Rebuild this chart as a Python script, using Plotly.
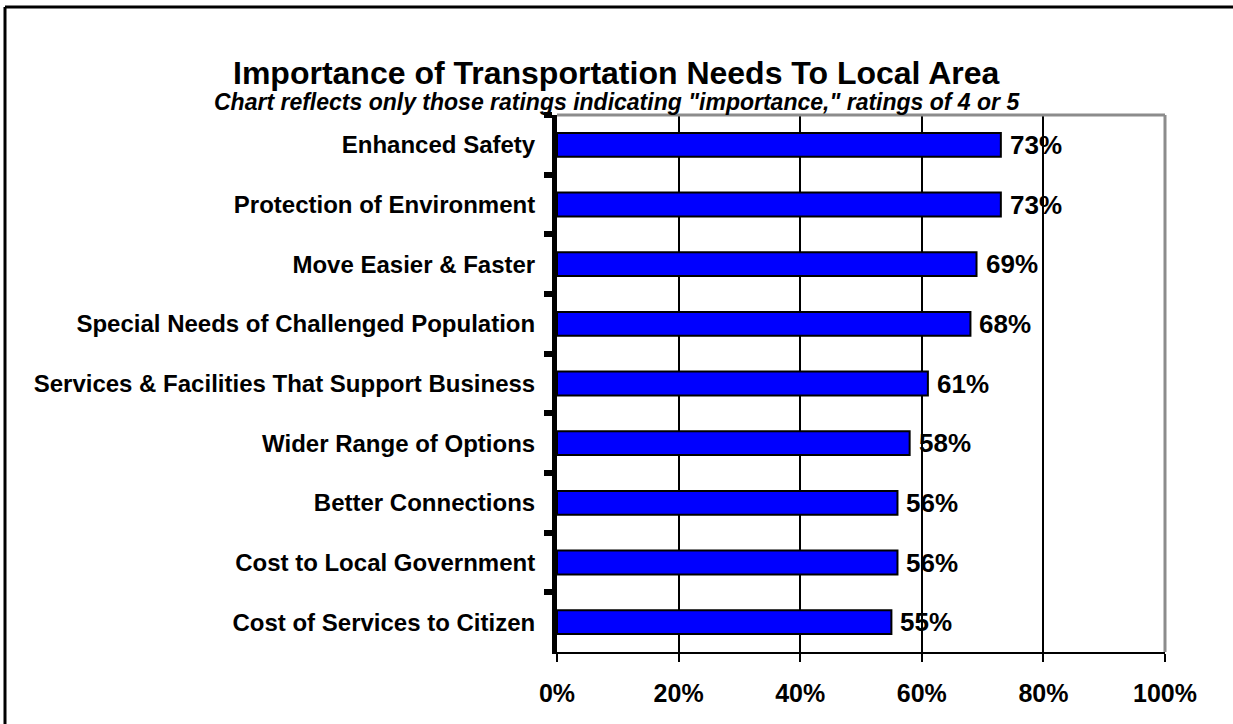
import plotly.graph_objects as go

# Survey results: share of respondents rating each need 4 or 5
categories = [
    "Enhanced Safety",
    "Protection of Environment",
    "Move Easier & Faster",
    "Special Needs of Challenged Population",
    "Services & Facilities That Support Business",
    "Wider Range of Options",
    "Better Connections",
    "Cost to Local Government",
    "Cost of Services to Citizen",
]
values = [73, 73, 69, 68, 61, 58, 56, 56, 55]
x_ticks = [0, 20, 40, 60, 80, 100]
x_tick_labels = ["0%", "20%", "40%", "60%", "80%", "100%"]

title_text = "Importance of Transportation Needs To Local Area"
subtitle_text = 'Chart reflects only those ratings indicating "importance," ratings of 4 or 5'

FONT = "Liberation Sans, Arial, sans-serif"
W, H = 1233, 724
M_L, M_R, M_T, M_B = 557, 68, 115, 72
PW, PH = W - M_L - M_R, H - M_T - M_B


def px_x(p):
    return (p - M_L) / PW


def px_y(p):
    return (H - M_B - p) / PH


fig = go.Figure()
fig.add_trace(go.Bar(
    y=categories,
    x=values,
    orientation="h",
    width=0.4,
    marker=dict(color="#0000FF", line=dict(color="black", width=2)),
    hoverinfo="skip",
))

# value labels at the end of each bar
for cat, v in zip(categories, values):
    fig.add_annotation(
        x=v, y=cat, xref="x", yref="y",
        text=f"<b>{v}%</b>", showarrow=False,
        xanchor="left", yanchor="middle", xshift=7,
        font=dict(family=FONT, size=26, color="black"),
    )

# titles centred on the whole figure
fig.add_annotation(
    x=px_x(W / 2), y=px_y(73), xref="paper", yref="paper", xanchor="center", yanchor="middle",
    text=f"<b>{title_text}</b>", showarrow=False, borderpad=0,
    font=dict(family=FONT, size=32, color="black"),
)
fig.add_annotation(
    x=px_x(W / 2), y=px_y(102), xref="paper", yref="paper", xanchor="center", yanchor="middle",
    text=f"<b><i>{subtitle_text}</i></b>", showarrow=False, borderpad=0,
    font=dict(family=FONT, size=23, color="black"),
)

shapes = [
    # plot-area border (top and right) in grey
    dict(type="line", xref="paper", yref="paper", x0=0, x1=1, y0=1, y1=1,
         line=dict(color="#8c8c8c", width=3), layer="above"),
    dict(type="line", xref="paper", yref="paper", x0=1, x1=1, y0=0, y1=1,
         line=dict(color="#8c8c8c", width=3), layer="above"),
    # outer frame of the chart: top edge runs off the right side of the page
    dict(type="line", xref="paper", yref="paper",
         x0=px_x(5), x1=px_x(W + 40), y0=px_y(7), y1=px_y(7),
         line=dict(color="black", width=3), layer="above"),
    dict(type="line", xref="paper", yref="paper",
         x0=px_x(5), x1=px_x(5), y0=px_y(H + 40), y1=px_y(7),
         line=dict(color="black", width=3), layer="above"),
]

fig.update_layout(
    width=W, height=H,
    margin=dict(l=M_L, r=M_R, t=M_T, b=M_B, pad=0),
    paper_bgcolor="white", plot_bgcolor="white",
    showlegend=False,
    shapes=shapes,
    xaxis=dict(
        range=[0, 100], tickvals=x_ticks, ticktext=x_tick_labels,
        showgrid=True, gridcolor="black", gridwidth=2,
        zeroline=False,
        showline=True, linecolor="black", linewidth=2,
        ticks="outside", ticklen=8, tickwidth=2, tickcolor="black",
        ticklabelstandoff=10,
        tickfont=dict(family=FONT, size=25, color="black", weight="bold"),
        fixedrange=True,
    ),
    yaxis=dict(
        categoryorder="array", categoryarray=categories,
        autorange="reversed",
        showgrid=False, zeroline=False,
        showline=True, linecolor="black", linewidth=5,
        ticks="outside", tickson="boundaries", ticklen=8, tickwidth=6, tickcolor="black",
        ticklabelstandoff=12,
        tickfont=dict(family=FONT, size=24, color="black", weight="bold"),
        fixedrange=True,
    ),
)

fig.write_html("out.html", config={"displayModeBar": False})
